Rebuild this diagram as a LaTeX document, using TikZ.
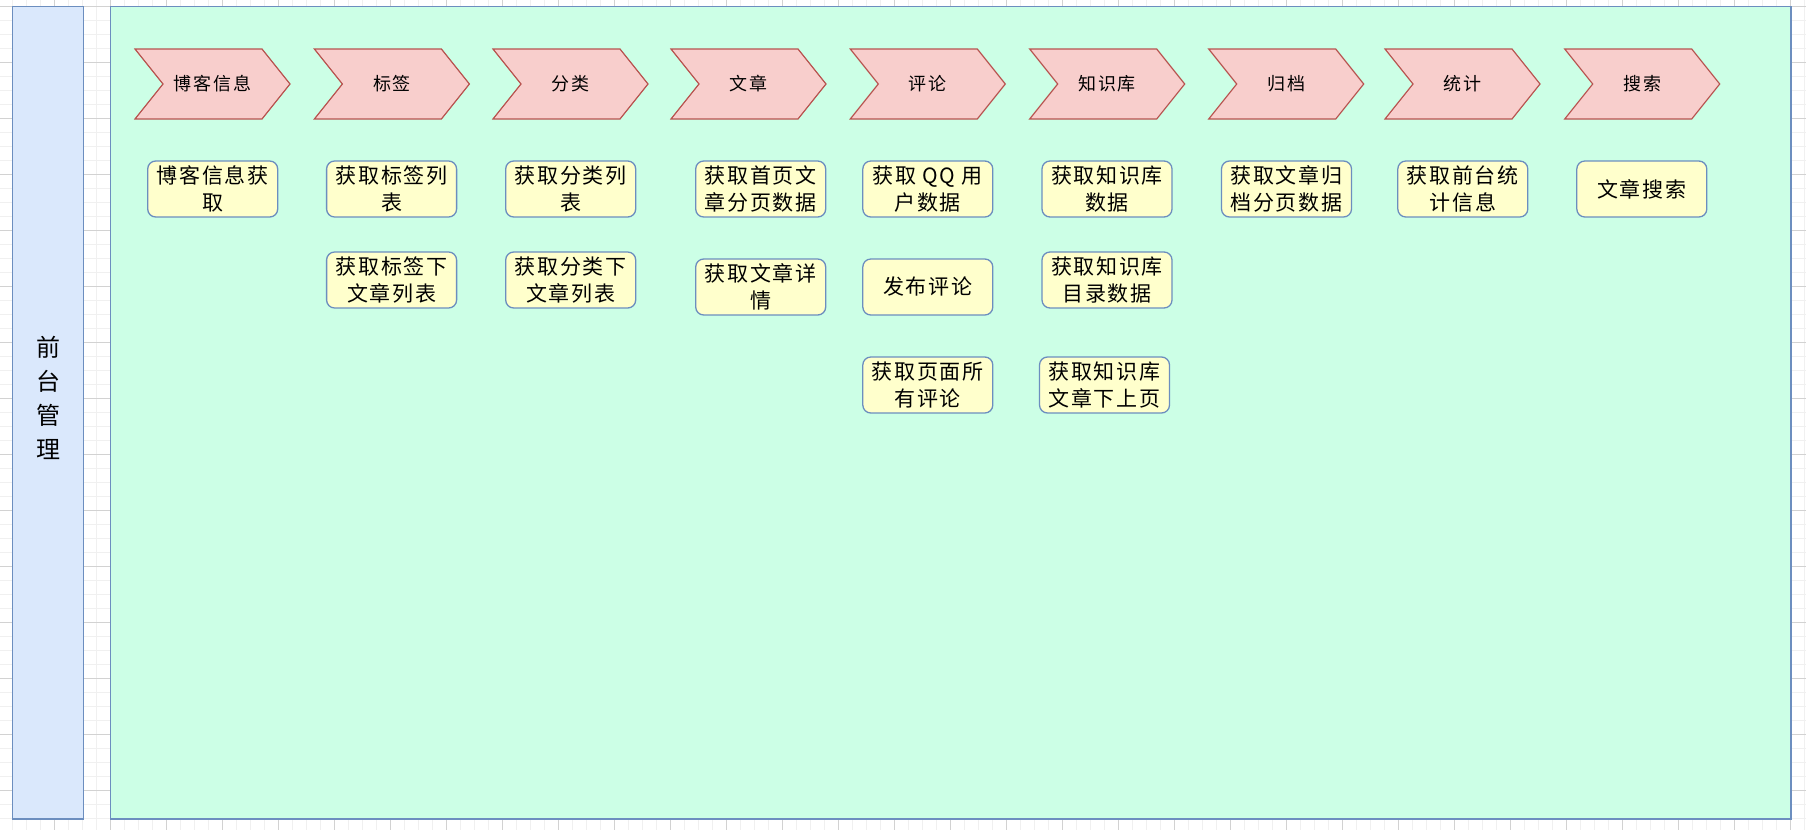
\documentclass[tikz,border=0pt]{standalone}
\usepackage{fontspec}
\setmainfont{Noto Sans CJK SC}
\newfontfamily\itemfont[LetterSpace=8]{Noto Sans CJK SC}
\newfontfamily\chevfont[LetterSpace=10]{Noto Sans CJK SC}
\definecolor{chevfill}{HTML}{F8CECC}
\definecolor{chevstroke}{HTML}{B85450}
\definecolor{boxfill}{HTML}{FFFFCC}
\definecolor{boxstroke}{HTML}{6C8EBF}
\definecolor{lanegreen}{HTML}{CCFFE6}
\definecolor{laneblue}{HTML}{DAE8FC}
\definecolor{gridminor}{HTML}{F0F0F0}
\definecolor{gridmajor}{HTML}{D2D2D2}
\tikzset{
  chev/.style={draw=chevstroke, fill=chevfill, line width=1.2pt, line join=miter},
  chevtext/.style={font=\chevfont\fontsize{18}{22}\selectfont, inner sep=0pt},
  item/.style={draw=boxstroke, fill=boxfill, rounded corners=8pt, minimum width=130pt, minimum height=56pt, line width=1.3pt, align=center, font=\itemfont\fontsize{21}{27}\selectfont, inner sep=0pt},
  lane/.style={draw=boxstroke, line width=1.5pt},
}
\newcommand\chev[3]{%
  \draw[chev] (#2,49) -- ++(127,0) -- ++(28,35) -- ++(-28,35) -- ++(-127,0) -- ++(28,-35) -- cycle;
  \node[chevtext] (#1) at (#2+77.5,84) {#3};}
\begin{document}
\begin{tikzpicture}[x=1pt,y=-1pt]
\useasboundingbox (0,0) rectangle (1806,830);
\fill[white] (0,0) rectangle (1806,830);
% grid
\foreach \i in {0,...,130} {\draw[gridminor, line width=1pt] (-1.7+14*\i,0) -- (-1.7+14*\i,830);}
\foreach \i in {0,...,59} {\draw[gridminor, line width=1pt] (0,6.3+14*\i) -- (1806,6.3+14*\i);}
\foreach \i in {0,...,33} {\draw[gridmajor, line width=1pt] (-1.7+56*\i,0) -- (-1.7+56*\i,830);}
\foreach \i in {0,...,14} {\draw[gridmajor, line width=1pt] (0,6.3+56*\i) -- (1806,6.3+56*\i);}
% lanes
\draw[lane, fill=laneblue] (12.7,6.7) rectangle (83.3,819);
\draw[lane, fill=lanegreen] (110.7,6.7) rectangle (1791,819);
\node[font=\fontsize{24}{34}\selectfont, align=center, inner sep=0pt] (lbl) at (48,397.5) {前\\台\\管\\理};
% chevrons
\chev{c1}{135}{博客信息}
\chev{c2}{314.4}{标签}
\chev{c3}{493}{分类}
\chev{c4}{671}{文章}
\chev{c5}{850.3}{评论}
\chev{c6}{1029.7}{知识库}
\chev{c7}{1208.7}{归档}
\chev{c8}{1385}{统计}
\chev{c9}{1564.7}{搜索}
% items
\node[item] (b11) at (212.7,189) {博客信息获\\取};
\node[item] (b21) at (391.6,189) {获取标签列\\表};
\node[item] (b22) at (391.6,280) {获取标签下\\文章列表};
\node[item] (b31) at (570.7,189) {获取分类列\\表};
\node[item] (b32) at (570.7,280) {获取分类下\\文章列表};
\node[item] (b41) at (760.7,189) {获取首页文\\章分页数据};
\node[item] (b42) at (760.7,287) {获取文章详\\情};
\node[item] (b51) at (927.8,189) {获取 QQ 用\\户数据};
\node[item] (b52) at (927.8,287) {发布评论};
\node[item] (b53) at (927.8,385) {获取页面所\\有评论};
\node[item] (b61) at (1107,189) {获取知识库\\数据};
\node[item] (b62) at (1107,280) {获取知识库\\目录数据};
\node[item] (b63) at (1104.5,385) {获取知识库\\文章下上页};
\node[item] (b71) at (1286.5,189) {获取文章归\\档分页数据};
\node[item] (b81) at (1462.8,189) {获取前台统\\计信息};
\node[item] (b91) at (1641.8,189) {文章搜索};
\end{tikzpicture}
\end{document}
